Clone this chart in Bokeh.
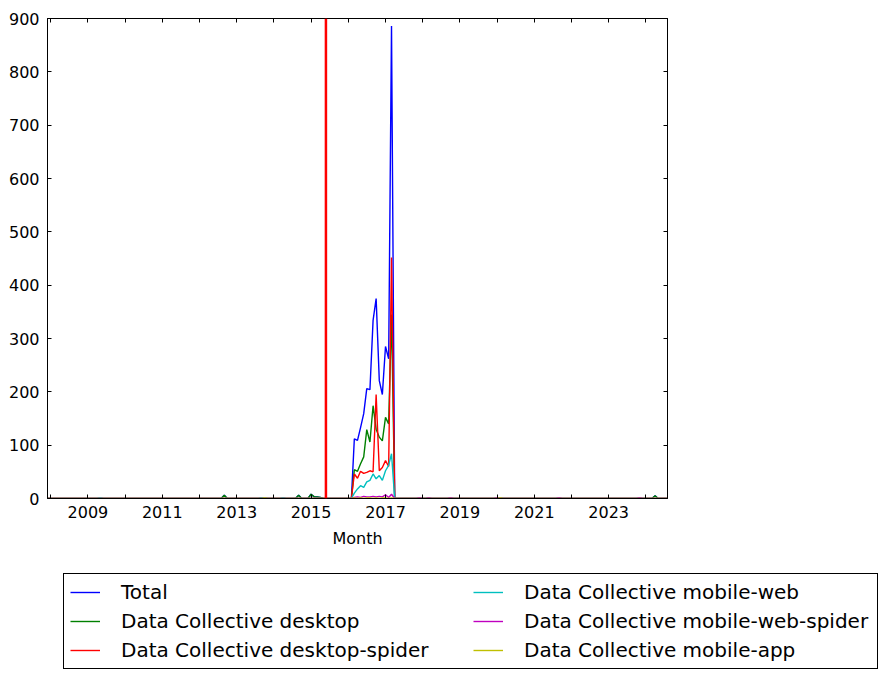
import pandas as pd
from bokeh.plotting import figure
from bokeh.models import (Range1d, FixedTicker, DatetimeAxis, LinearAxis, Span,
                          Legend, LegendItem, DatetimeTickFormatter, ColumnDataSource)
from bokeh.embed import file_html
from bokeh.resources import INLINE

# ---------------- data ----------------
first_month = "2007-12-01"
last_month = "2024-08-01"
segment_start = "2016-02-01"   # Feb 2016 .. Apr 2017

total_segment = [0, 112, 109, 133, 159, 206, 204, 334, 375, 221, 195, 285, 262, 886, 0]
desktop_segment = [0, 54, 51, 65, 78, 129, 106, 174, 130, 115, 108, 152, 140, 345, 0]
desktop_spider_segment = [0, 46, 38, 51, 47, 49, 52, 50, 195, 52, 58, 71, 60, 452, 0]
mobile_web_segment = [0, 10, 18, 24, 21, 31, 34, 46, 37, 43, 34, 52, 62, 84, 0]
mobile_web_spider_segment = [0, 2, 3, 2, 4, 3, 3, 4, 3, 4, 3, 7, 2, 8, 0]
mobile_app_segment = [0, 1, 0, 1, 0, 1, 1, 0, 1, 0, 1, 1, 0, 1, 0]

total_blips = {"2009-05-01": 1, "2012-09-01": 6, "2013-09-01": 1, "2013-10-01": 1,
               "2014-04-01": 1, "2014-09-01": 6, "2015-01-01": 8, "2015-02-01": 3,
               "2015-03-01": 3, "2015-04-01": 2, "2017-12-01": 1, "2018-03-01": 1,
               "2018-10-01": 1, "2020-01-01": 1, "2020-02-01": 1, "2021-09-01": 1,
               "2023-11-01": 1, "2024-04-01": 5}
desktop_blips = {"2012-09-01": 6, "2014-09-01": 6, "2015-01-01": 8, "2015-02-01": 3,
                 "2015-03-01": 3, "2015-04-01": 2, "2024-04-01": 5}
desktop_spider_blips = {}
mobile_web_blips = {"2009-05-01": 1, "2013-09-01": 1, "2014-04-01": 1}
mobile_web_spider_blips = {"2017-12-01": 1, "2018-03-01": 1, "2018-10-01": 1,
                           "2020-01-01": 1, "2021-09-01": 1, "2023-11-01": 1}
mobile_app_blips = {"2013-10-01": 1, "2020-02-01": 1}

event_date = "2015-05-27"

series_names = ["Total", "Data Collective desktop", "Data Collective desktop-spider",
                "Data Collective mobile-web", "Data Collective mobile-web-spider",
                "Data Collective mobile-app"]
series_colors = ["#0000ff", "#008000", "#ff0000", "#00bfbf", "#bf00bf", "#bfbf00"]

major_years = [2009, 2011, 2013, 2015, 2017, 2019, 2021, 2023]
minor_years = [2008, 2010, 2012, 2014, 2016, 2018, 2020, 2022, 2024]
y_ticks = [0, 100, 200, 300, 400, 500, 600, 700, 800, 900]
x_label = "Month"

# ---------------- build series ----------------
months = pd.date_range(first_month, last_month, freq="MS")
seg_index = pd.date_range(segment_start, periods=len(total_segment), freq="MS")


def build(segment, blips):
    s = pd.Series(0.0, index=months)
    s[seg_index] = segment
    for d, v in blips.items():
        s[pd.Timestamp(d)] = v
    return s.values


series_values = [
    build(total_segment, total_blips),
    build(desktop_segment, desktop_blips),
    build(desktop_spider_segment, desktop_spider_blips),
    build(mobile_web_segment, mobile_web_blips),
    build(mobile_web_spider_segment, mobile_web_spider_blips),
    build(mobile_app_segment, mobile_app_blips),
]


def ms(year):
    return pd.Timestamp(f"{year}-01-01").timestamp() * 1000.0


FONT = "DejaVu Sans"
LW = 1.4

p = figure(x_axis_type="datetime", frame_width=620, frame_height=480,
           min_border_left=47, min_border_right=221, min_border_top=18,
           min_border_bottom=62, output_backend="svg", toolbar_location=None,
           x_range=Range1d(months[0], months[-1]), y_range=Range1d(0, 900))
p.background_fill_color = "white"
p.border_fill_color = "white"
p.outline_line_color = "black"
p.outline_line_width = 1
p.xgrid.visible = False
p.ygrid.visible = False

xticker = FixedTicker(ticks=[ms(y) for y in major_years],
                      minor_ticks=[ms(y) for y in minor_years])
yticker = FixedTicker(ticks=y_ticks)
fmt = DatetimeTickFormatter(years="%Y", months="%Y", days="%Y", hours="%Y")

for name, color, vals in zip(series_names, series_colors, series_values):
    src = ColumnDataSource(dict(x=months, y=vals))
    p.line("x", "y", source=src, line_color=color, line_width=LW)

p.add_layout(Span(location=pd.Timestamp(event_date), dimension="height",
                  line_color="red", line_width=2.5))


def style_axis(ax, minor=False):
    ax.axis_line_color = "black"
    ax.major_tick_in = 4
    ax.major_tick_out = 0
    ax.major_tick_line_color = "black"
    if minor:
        ax.minor_tick_in = 4
        ax.minor_tick_out = 0
        ax.minor_tick_line_color = "black"
    else:
        ax.minor_tick_line_color = None
    ax.major_label_text_font = FONT
    ax.major_label_text_color = "black"
    ax.major_label_text_font_size = "16px"


xa = p.xaxis[0]
xa.ticker = xticker
xa.formatter = fmt
style_axis(xa, True)
xa.major_label_standoff = 7
xa.axis_label = x_label
xa.axis_label_text_font = FONT
xa.axis_label_text_font_size = "16px"
xa.axis_label_text_font_style = "normal"
xa.axis_label_text_color = "black"
xa.axis_label_standoff = 8

ya = p.yaxis[0]
ya.ticker = yticker
style_axis(ya, False)
ya.major_label_standoff = 8

top = DatetimeAxis(ticker=xticker, formatter=fmt)
style_axis(top, True)
top.major_label_overrides = {ms(y): "" for y in major_years}
top.major_label_standoff = 0
p.add_layout(top, "above")
right = LinearAxis(ticker=yticker)
style_axis(right, False)
right.major_label_overrides = {t: "" for t in y_ticks}
right.major_label_standoff = 0
p.add_layout(right, "right")

# ---------------- legend strip below the plot (separate root) ----------------
lf = figure(width=888, height=119, min_border=0, output_backend="svg",
            toolbar_location=None, x_axis_location=None, y_axis_location=None,
            x_range=Range1d(0, 1), y_range=Range1d(0, 1))
lf.outline_line_color = None
lf.xgrid.visible = False
lf.ygrid.visible = False
lf.background_fill_color = "white"
lf.border_fill_color = "white"

nan = float("nan")
legend_renderers = [lf.line(x=[nan], y=[nan], line_color=c, line_width=LW)
                    for c in series_colors]
items = [LegendItem(label=n, renderers=[r]) for n, r in zip(series_names, legend_renderers)]
legend = Legend(items=items, ncols=2, location=(63, 10), margin=0,
                label_text_font=FONT, label_text_font_size="20px",
                label_text_color="black", glyph_width=30, glyph_height=22,
                label_height=22, label_width=347, label_standoff=21,
                spacing=5, padding=6, border_line_color="black",
                border_line_alpha=1.0, border_line_width=1,
                background_fill_color="white", background_fill_alpha=1.0)
lf.add_layout(legend, "center")

open("out.html", "w").write(file_html([p, lf], INLINE))
